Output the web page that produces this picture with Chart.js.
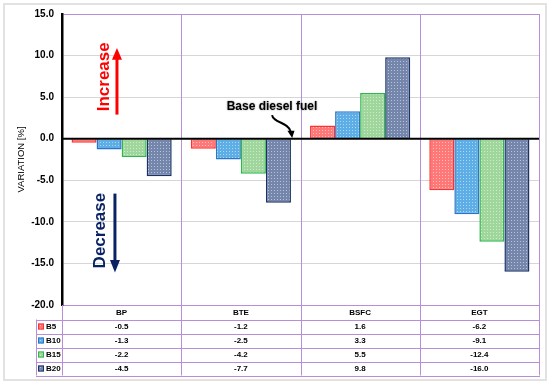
<!DOCTYPE html>
<html><head><meta charset="utf-8">
<script src="https://cdn.jsdelivr.net/npm/chart.js@4"></script>
<style>html,body{margin:0;padding:0;background:#fff;}#wrap{width:550px;height:384px;position:relative;}</style>
</head><body><div id="wrap"><canvas id="c" width="550" height="384"></canvas></div>
<script>
const categories = ['BP', 'BTE', 'BSFC', 'EGT'];
const seriesNames = ['B5', 'B10', 'B15', 'B20'];
const b5 = [-0.5, -1.2, 1.6, -6.2];
const b10 = [-1.3, -2.5, 3.3, -9.1];
const b15 = [-2.2, -4.2, 5.5, -12.4];
const b20 = [-4.5, -7.7, 9.8, -16.0];
const yTicks = [15, 10, 5, 0, -5, -10, -15, -20];
const yTitle = 'VARIATION [%]';

const seriesData = [b5, b10, b15, b20];
const baseColors = ['#FF7878', '#5DAEE6', '#9FD69C', '#7486AC'];
const borderColors = ['#FF3030', '#2E74C6', '#2DB84C', '#1C3266'];
const PURPLE = '#B88ED8';
const FONT = 'Liberation Sans';

function makePattern(base) {
  const c = document.createElement('canvas');
  c.width = 3; c.height = 3;
  const x = c.getContext('2d');
  x.fillStyle = base; x.fillRect(0, 0, 3, 3);
  x.fillStyle = 'rgba(255,255,255,0.5)';
  x.fillRect(1, 1, 1, 1);
  return x.createPattern(c, 'repeat');
}
const patterns = baseColors.map(makePattern);

const decorPlugin = {
  id: 'decor',
  beforeDraw(chart) {
    const ctx = chart.ctx;
    ctx.save();
    ctx.strokeStyle = '#E2E2E2';
    ctx.lineWidth = 2;
    ctx.strokeRect(4, 4, 542, 376);
    ctx.restore();
  },
  beforeDatasetsDraw(chart) {
    const ctx = chart.ctx, a = chart.chartArea;
    const catW = (a.right - a.left) / categories.length;
    const headH = 14.5, rowH = 14;
    const tableBottom = a.bottom + headH + rowH * seriesNames.length;
    const keyLeft = 36;
    ctx.save();
    ctx.strokeStyle = PURPLE;
    ctx.lineWidth = 1;
    for (let i = 1; i <= categories.length; i++) {
      const x = Math.round(a.left + i * catW) + 0.5;
      ctx.beginPath(); ctx.moveTo(x, a.top); ctx.lineTo(x, tableBottom); ctx.stroke();
    }
    ctx.beginPath(); ctx.moveTo(a.left + 0.5, a.bottom); ctx.lineTo(a.left + 0.5, tableBottom); ctx.stroke();
    ctx.beginPath(); ctx.moveTo(keyLeft + 0.5, a.bottom + headH); ctx.lineTo(keyLeft + 0.5, tableBottom); ctx.stroke();
    for (let r = 0; r <= seriesNames.length; r++) {
      const y = Math.round(a.bottom + headH + r * rowH) + 0.5;
      ctx.beginPath(); ctx.moveTo(keyLeft, y); ctx.lineTo(a.right + 1, y); ctx.stroke();
    }
    ctx.fillStyle = '#000';
    ctx.font = 'bold 8px "' + FONT + '"';
    ctx.textAlign = 'center'; ctx.textBaseline = 'middle';
    categories.forEach((c, i) => {
      ctx.fillText(c, a.left + (i + 0.5) * catW, a.bottom + headH / 2 + 0.5);
    });
    seriesNames.forEach((s, r) => {
      const cy = a.bottom + headH + r * rowH + rowH / 2 + 0.5;
      ctx.fillStyle = patterns[r];
      ctx.fillRect(38, cy - 3.5, 6, 6);
      ctx.strokeStyle = borderColors[r];
      ctx.lineWidth = 1;
      ctx.strokeRect(38.5, cy - 3, 5, 5);
      ctx.fillStyle = '#000';
      ctx.textAlign = 'left';
      ctx.fillText(s, 46, cy);
      ctx.textAlign = 'center';
      seriesData[r].forEach((v, i) => {
        ctx.fillText(v.toFixed(1), a.left + (i + 0.5) * catW, cy);
      });
    });
    ctx.restore();
  },
  afterDatasetsDraw(chart) {
    const ctx = chart.ctx, a = chart.chartArea, ys = chart.scales.y;
    const catW = (a.right - a.left) / categories.length;
    const px = f => a.left + f * catW;
    const py = v => ys.getPixelForValue(v);
    ctx.save();
    ctx.strokeStyle = '#000';
    ctx.lineWidth = 2;
    ctx.beginPath(); ctx.moveTo(a.left, py(0)); ctx.lineTo(a.right, py(0)); ctx.stroke();

    ctx.save();
    ctx.translate(px(0.352), py(7.45));
    ctx.rotate(-Math.PI / 2);
    ctx.fillStyle = '#FF0000';
    ctx.font = 'bold 17px "' + FONT + '"';
    ctx.textAlign = 'center'; ctx.textBaseline = 'middle';
    ctx.fillText('Increase', 0, 0);
    ctx.restore();
    let ax = px(0.461);
    ctx.strokeStyle = '#FF0000'; ctx.fillStyle = '#FF0000'; ctx.lineWidth = 3;
    ctx.beginPath(); ctx.moveTo(ax, py(2.9)); ctx.lineTo(ax, py(9.6)); ctx.stroke();
    ctx.beginPath(); ctx.moveTo(ax - 5, py(9.5)); ctx.lineTo(ax + 5, py(9.5)); ctx.lineTo(ax, py(10.9)); ctx.closePath(); ctx.fill();

    ctx.save();
    ctx.translate(px(0.32), py(-11.05));
    ctx.rotate(-Math.PI / 2);
    ctx.fillStyle = '#0A2263';
    ctx.font = 'bold 17px "' + FONT + '"';
    ctx.textAlign = 'center'; ctx.textBaseline = 'middle';
    ctx.fillText('Decrease', 0, 0);
    ctx.restore();
    ax = px(0.444);
    ctx.strokeStyle = '#0A2263'; ctx.fillStyle = '#0A2263'; ctx.lineWidth = 3;
    ctx.beginPath(); ctx.moveTo(ax, py(-6.6)); ctx.lineTo(ax, py(-14.8)); ctx.stroke();
    ctx.beginPath(); ctx.moveTo(ax - 5, py(-14.6)); ctx.lineTo(ax + 5, py(-14.6)); ctx.lineTo(ax, py(-16.1)); ctx.closePath(); ctx.fill();

    ctx.save();
    ctx.shadowColor = 'rgba(0,0,0,0.45)';
    ctx.shadowBlur = 2;
    ctx.fillStyle = '#000';
    ctx.font = 'bold 12px "' + FONT + '"';
    ctx.textAlign = 'center'; ctx.textBaseline = 'middle';
    ctx.fillText('Base diesel fuel', px(1.761), py(3.85));
    ctx.restore();
    ctx.strokeStyle = '#000'; ctx.fillStyle = '#000'; ctx.lineWidth = 2;
    ctx.beginPath();
    ctx.moveTo(px(1.762), py(2.85));
    ctx.bezierCurveTo(px(1.77), py(1.9), px(1.9), py(2.0), px(1.918), py(0.85));
    ctx.stroke();
    ctx.beginPath();
    ctx.moveTo(px(1.89), py(0.95)); ctx.lineTo(px(1.95), py(0.95)); ctx.lineTo(px(1.93), py(0.1)); ctx.closePath(); ctx.fill();
    ctx.restore();
  }
};

new Chart(document.getElementById('c'), {
  type: 'bar',
  data: {
    labels: categories,
    datasets: seriesNames.map((n, i) => ({
      label: n,
      data: seriesData[i],
      backgroundColor: patterns[i],
      borderColor: borderColors[i],
      borderWidth: 1.5
    }))
  },
  options: {
    responsive: false,
    animation: false,
    devicePixelRatio: 1,
    layout: { padding: { left: 0, top: 14, right: 11, bottom: 0 } },
    datasets: { bar: { categoryPercentage: 0.84, barPercentage: 1 } },
    plugins: { legend: { display: false }, tooltip: { enabled: false } },
    scales: {
      x: {
        grid: { display: false }, border: { display: false },
        ticks: { display: false },
        afterFit(s) { s.height = 79; }
      },
      y: {
        min: -20, max: 15,
        afterBuildTicks(s) { s.ticks = yTicks.map(v => ({ value: v })); },
        ticks: {
          callback: v => Number(v).toFixed(1),
          font: { family: FONT, weight: 'bold', size: 10 },
          color: '#000', padding: 8
        },
        grid: {
          drawTicks: false,
          lineWidth: 1,
          color: c => (c.tick && (c.tick.value === 15 || c.tick.value === -20)) ? PURPLE :
                      (c.tick && c.tick.value === 0 ? 'rgba(0,0,0,0)' : '#D6D6D6')
        },
        border: { color: '#000', width: 2.5 },
        title: {
          display: true, text: yTitle, color: '#000',
          font: { family: FONT, size: 9.5 },
          padding: { top: 16, bottom: 0 }
        },
        afterFit(s) { s.width = 62; }
      }
    }
  },
  plugins: [decorPlugin]
});
</script></body></html>
